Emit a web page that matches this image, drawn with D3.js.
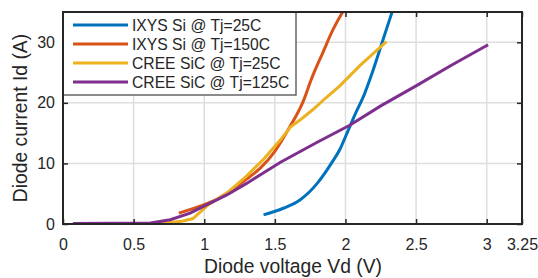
<!DOCTYPE html>
<html lang="en">
<head>
    <meta charset="UTF-8">
    <title>Diode IV</title>
    <script src="https://d3js.org/d3.v7.min.js"></script>
    <style>
        body { margin: 0; background: #fff; }
        text { font-family: 'Liberation Sans', Arial, sans-serif; fill: #262626; }
    </style>
</head>
<body>
<script>
    const width  = 538;
    const height = 278;

    const ixys25 = [[1.42,1.5],[1.56,2.6],[1.68,4.0],[1.80,6.7],[1.90,10.0],[1.96,12.3],
                    [2.02,15.5],[2.08,18.7],[2.13,21.2],[2.19,25.0],[2.26,30.0],[2.33,35.0]];
    const ixys150 = [[0.82,1.8],[1.0,3.2],[1.1,4.2],[1.2,5.7],[1.3,7.4],[1.4,9.3],[1.5,12.0],
                     [1.6,15.8],[1.7,20.2],[1.76,24.0],[1.84,28.3],[1.91,32.0],[1.98,35.0]];
    const cree25 = [[0.07,0.1],[0.6,0.1],[0.75,0.2],[0.85,0.5],[0.92,0.9],[1.03,3.2],[1.16,5.1],
                    [1.30,7.9],[1.42,10.7],[1.54,13.9],[1.61,16.0],[1.68,17.2],[1.77,18.9],
                    [1.86,20.8],[1.96,22.8],[2.10,26.1],[2.29,30.1]];
    const cree125 = [[0.07,0.1],[0.62,0.15],[0.76,0.7],[0.9,1.8],[1.02,3.2],[1.16,4.8],[1.30,6.7],
                     [1.54,10.2],[1.80,13.5],[2.03,16.3],[2.25,19.5],[2.5,22.8],[2.75,26.2],[3.01,29.6]];

    const seriesNames = ['IXYS Si @ Tj=25C', 'IXYS Si @ Tj=150C', 'CREE SiC @ Tj=25C', 'CREE SiC @ Tj=125C'];
    const seriesData  = [ixys25, ixys150, cree25, cree125];
    const colors = ['#0072BD', '#D95319', '#EDB120', '#7E2F8E'];
    const curves = [d3.curveMonotoneX, d3.curveMonotoneX, d3.curveLinear, d3.curveLinear];

    const xTicks = [0, 0.5, 1, 1.5, 2, 2.5, 3, 3.25];
    const yTicks = [0, 10, 20, 30];

    const x = d3.scaleLinear().domain([0, 3.25]).range([63, 522]);
    const y = d3.scaleLinear().domain([0, 35]).range([224, 12]);

    const svg = d3.select("body").append("svg").attr("width", width).attr("height", height);

    svg.append("clipPath").attr("id", "plot")
        .append("rect").attr("x", 63).attr("y", 12).attr("width", 459).attr("height", 212);

    // grid
    svg.append("g").selectAll("line")
        .data(xTicks.filter(d => d > 0 && d < 3.25))
        .enter().append("line")
        .attr("x1", d => x(d)).attr("x2", d => x(d))
        .attr("y1", y(0)).attr("y2", y(35))
        .attr("stroke", "#dedede").attr("stroke-width", 1.5);
    svg.append("g").selectAll("line")
        .data(yTicks.filter(d => d > 0))
        .enter().append("line")
        .attr("x1", x(0)).attr("x2", x(3.25))
        .attr("y1", d => y(d)).attr("y2", d => y(d))
        .attr("stroke", "#dedede").attr("stroke-width", 1.5);

    // curves
    const line = d3.line().x(d => x(d[0])).y(d => y(d[1]));
    svg.append("g").attr("clip-path", "url(#plot)")
        .selectAll("path")
        .data(seriesData)
        .enter().append("path")
        .attr("d", (d, i) => line.curve(curves[i])(d))
        .attr("fill", "none")
        .attr("stroke", (d, i) => colors[i])
        .attr("stroke-width", 3);

    // axes, ticks inside
    function styleAxis(g) {
        g.select(".domain").remove();
        g.selectAll(".tick line").attr("stroke", "#262626").attr("stroke-width", 1.5);
        g.selectAll("text").attr("fill", "#262626").style("font-size", "16px")
            .style("font-family", "'Liberation Sans', Arial, sans-serif");
    }

    svg.append("g").attr("transform", "translate(0," + y(0) + ")")
        .call(d3.axisBottom(x).tickValues(xTicks).tickFormat(d3.format("")).tickSize(-5).tickPadding(14.5))
        .call(styleAxis);
    svg.append("g").attr("transform", "translate(0," + y(35) + ")")
        .call(d3.axisTop(x).tickValues(xTicks).tickFormat("").tickSize(-5))
        .call(styleAxis);
    svg.append("g").attr("transform", "translate(" + x(0) + ",0)")
        .call(d3.axisLeft(y).tickValues(yTicks).tickSize(-5).tickPadding(8))
        .call(styleAxis);
    svg.append("g").attr("transform", "translate(" + x(3.25) + ",0)")
        .call(d3.axisRight(y).tickValues(yTicks).tickFormat("").tickSize(-5))
        .call(styleAxis);

    // legend
    const legend = svg.append("g");
    legend.append("rect")
        .attr("x", 63).attr("y", 12).attr("width", 233).attr("height", 83)
        .attr("fill", "#fff").attr("stroke", "#666").attr("stroke-width", 1.5);
    seriesNames.forEach((name, i) => {
        const cy = 25 + i * 19;
        legend.append("line")
            .attr("x1", 73).attr("x2", 128).attr("y1", cy).attr("y2", cy)
            .attr("stroke", colors[i]).attr("stroke-width", 3);
        legend.append("text")
            .attr("x", 132).attr("y", cy + 5.5)
            .style("font-size", "15.7px")
            .text(name);
    });

    // box
    svg.append("rect")
        .attr("x", x(0)).attr("y", y(35))
        .attr("width", x(3.25) - x(0)).attr("height", y(0) - y(35))
        .attr("fill", "none").attr("stroke", "#262626").attr("stroke-width", 2);

    // axis titles
    svg.append("text")
        .attr("x", 293).attr("y", 273)
        .attr("text-anchor", "middle")
        .style("font-size", "19.3px")
        .text("Diode voltage Vd (V)");
    svg.append("text")
        .attr("transform", "translate(27,118) rotate(-90)")
        .attr("text-anchor", "middle")
        .style("font-size", "19.3px")
        .text("Diode current Id (A)");
</script>
</body>
</html>
